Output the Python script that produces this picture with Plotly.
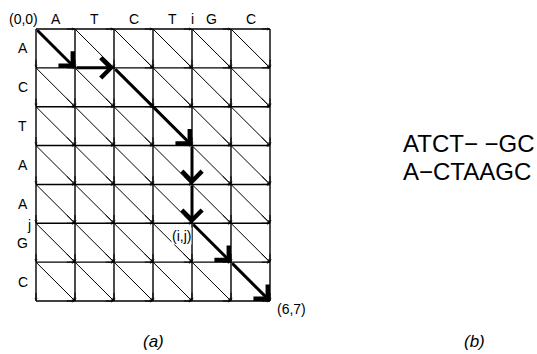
import plotly.graph_objects as go

# ---- data ----
col_letters = ["A", "T", "C", "T", "G", "C"]
row_letters = ["A", "C", "T", "A", "A", "G", "C"]
path_x = [0, 1, 2, 4, 4, 4, 5, 6]
path_y = [0, 1, 1, 3, 4, 5, 6, 7]
align_top = "ATCT\u2212 \u2212GC"
align_bot = "A\u2212CTAAGC"
n_cols = len(col_letters)
n_rows = len(row_letters)

W, H = 537, 354
x0px, x1px = 36, 270
y0px, y1px = 29, 301
sx = (x1px - x0px) / n_cols
sy = (y1px - y0px) / n_rows
xr = [-x0px / sx, (W - x0px) / sx]
yr = [(H - y0px) / sy, -y0px / sy]

def px_x(p):
    return (p - x0px) / sx

def px_y(p):
    return (p - y0px) / sy

FONT = "Liberation Sans, Arial, sans-serif"
fig = go.Figure()

# grid lines
gx, gy = [], []
for j in range(n_rows + 1):
    gx += [0, n_cols, None]; gy += [j, j, None]
for i in range(n_cols + 1):
    gx += [i, i, None]; gy += [0, n_rows, None]
fig.add_trace(go.Scatter(x=gx, y=gy, mode="lines", line=dict(color="black", width=1.4),
                         hoverinfo="skip", showlegend=False))
# diagonals
dx, dy = [], []
for i in range(n_cols):
    for j in range(n_rows):
        dx += [i, i + 1, None]; dy += [j, j + 1, None]
fig.add_trace(go.Scatter(x=dx, y=dy, mode="lines", line=dict(color="black", width=1),
                         hoverinfo="skip", showlegend=False))

# small arrowheads on grid edges
ann = []
for i in range(n_cols):
    for j in range(n_rows + 1):
        ann.append(dict(x=i + 1, y=j, ax=i + 0.75, ay=j, xref="x", yref="y", axref="x", ayref="y",
                        showarrow=True, arrowhead=5, arrowsize=0.5, arrowwidth=1, arrowcolor="black", text=""))
for i in range(n_cols + 1):
    for j in range(n_rows):
        ann.append(dict(x=i, y=j + 1, ax=i, ay=j + 0.75, xref="x", yref="y", axref="x", ayref="y",
                        showarrow=True, arrowhead=5, arrowsize=0.5, arrowwidth=1, arrowcolor="black", text=""))
for i in range(n_cols):
    for j in range(n_rows):
        ann.append(dict(x=i + 1, y=j + 1, ax=i + 0.75, ay=j + 0.75, xref="x", yref="y", axref="x", ayref="y",
                        showarrow=True, arrowhead=5, arrowsize=0.5, arrowwidth=1, arrowcolor="black", text=""))

# path with arrowheads
for k in range(len(path_x) - 1):
    ann.append(dict(x=path_x[k + 1], y=path_y[k + 1], ax=path_x[k], ay=path_y[k],
                    xref="x", yref="y", axref="x", ayref="y", showarrow=True,
                    arrowhead=4, arrowsize=1.3, arrowwidth=3, arrowcolor="black", text="",
                    standoff=0))

def txt(x, y, s, size=14, italic=False, xanchor="center", bg=None):
    d = dict(x=x, y=y, xref="x", yref="y", text=s, showarrow=False,
             xanchor=xanchor, yanchor="middle", borderpad=0,
             font=dict(family=FONT, size=size, color="black",
                       style="italic" if italic else "normal"))
    if bg:
        d["bgcolor"] = bg
    ann.append(d)

for i, c in enumerate(col_letters):
    txt(i + 0.5, px_y(19), c)
for j, r in enumerate(row_letters):
    txt(px_x(22.5), j + 0.5, r)
txt(4, px_y(19), "i")
txt(px_x(29), px_y(225), "j")
txt(px_x(23), px_y(19), "(0,0)")
txt(px_x(181), px_y(236), "(i,j)", bg="white")
txt(px_x(291), px_y(309), "(6,7)")
txt(px_x(153), px_y(341), "(a)", size=17, italic=True)
txt(px_x(474), px_y(341), "(b)", size=17, italic=True)
txt(px_x(402), px_y(143), align_top, size=24, xanchor="left")
txt(px_x(402), px_y(171), align_bot, size=24, xanchor="left")

fig.update_layout(
    width=W, height=H, margin=dict(l=0, r=0, t=0, b=0),
    paper_bgcolor="white", plot_bgcolor="white",
    xaxis=dict(range=xr, visible=False, fixedrange=True),
    yaxis=dict(range=yr, visible=False, fixedrange=True),
    annotations=ann, showlegend=False,
)
fig.write_html("out.html")
